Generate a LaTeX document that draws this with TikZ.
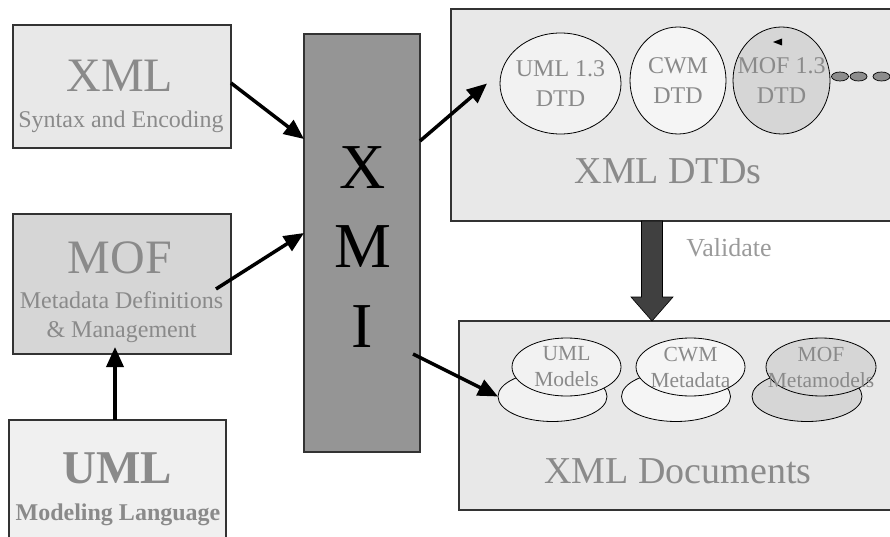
\documentclass[tikz,border=0pt]{standalone}
\usepackage{fontspec}
\setmainfont{Liberation Serif}
\usetikzlibrary{arrows.meta,shapes.geometric,calc}

\definecolor{boxlight}{HTML}{E8E8E8}
\definecolor{mofgray}{HTML}{D6D6D6}
\definecolor{umllight}{HTML}{F0F0F0}
\definecolor{xmigray}{HTML}{959595}
\definecolor{ellA}{HTML}{F2F2F2}
\definecolor{ellB}{HTML}{F5F5F5}
\definecolor{ellC}{HTML}{D6D6D6}
\definecolor{txtgray}{HTML}{8A8A8A}
\definecolor{lightgray}{HTML}{9A9A9A}
\definecolor{dotgray}{HTML}{8C8C8C}
\definecolor{bigarrow}{HTML}{404040}
\definecolor{edge}{HTML}{333333}

\begin{document}
\begin{tikzpicture}[x=1pt,y=-1pt,
  box/.style={draw=edge, line width=1.1pt, inner sep=0pt, outer sep=0pt, anchor=north west},
  ell/.style={ellipse, draw=black, line width=0.8pt, inner sep=0pt, outer sep=0pt},
  dot/.style={ellipse, draw=black, line width=0.7pt, fill=dotgray, inner sep=0pt,
              minimum width=17pt, minimum height=9pt},
  txt/.style={anchor=base, inner sep=0pt, text=txtgray},
  title/.style={txt, font=\fontsize{48}{48}\selectfont},
  sub/.style={txt, font=\fontsize{24}{24}\selectfont},
  letter/.style={anchor=base, inner sep=0pt, text=black, font=\fontsize{64}{64}\selectfont},
  dtdlbl/.style={align=center, inner sep=0pt, text=txtgray, font=\fontsize{24}{30}\selectfont},
  doclbl/.style={align=center, inner sep=0pt, text=txtgray, font=\fontsize{21.5}{26}\selectfont},
  arr/.style={line width=3.5pt, draw=black, -{Triangle[length=20pt,width=17pt]}},
  bigarr/.style={fill=bigarrow, draw=black, line width=0.6pt}
]
\useasboundingbox (0,0) rectangle (890,537);
\clip (0,0) rectangle (890,537);

% left column and the XMI block
\node[box, fill=boxlight, minimum width=218pt, minimum height=123pt] (xml) at (13,25) {};
\node[box, fill=mofgray, minimum width=218pt, minimum height=140pt] (mof) at (13,214) {};
\node[box, fill=umllight, minimum width=217pt, minimum height=140pt] (uml) at (9,420) {};
\node[box, fill=xmigray, minimum width=116pt, minimum height=418pt] (xmi) at (304,34) {};

% right column
\node[box, fill=boxlight, minimum width=460pt, minimum height=212pt] (dtd) at (451,9) {};
\node[box, fill=boxlight, minimum width=460pt, minimum height=189pt] (docs) at (459,321) {};

% DTD ellipses
\node[ell, fill=ellA, minimum width=121pt, minimum height=101pt,
      label={[dtdlbl]center:{UML 1.3\\DTD}}] (dUml) at (560.5,83.5) {};
\node[ell, fill=ellB, minimum width=96pt, minimum height=107pt,
      label={[dtdlbl]center:{CWM\\DTD}}] (dCwm) at (678,80.5) {};
\node[ell, fill=ellC, minimum width=97pt, minimum height=107pt,
      label={[dtdlbl]center:{MOF 1.3\\DTD}}] (dMof) at (781.5,80.5) {};
\node[dot] (dot1) at (840,76.5) {};
\node[dot] (dot2) at (858.5,76.5) {};
\node[dot] (dot3) at (881.5,76.5) {};
\fill[black] (773,42) -- (782,38.5) -- (782,45.5) -- cycle;

% document ellipses (stacked pairs)
\node[ell, fill=ellA, minimum width=109pt, minimum height=50pt] (bUml) at (552.5,396.5) {};
\node[ell, fill=ellA, minimum width=109pt, minimum height=58pt,
      label={[doclbl]center:{UML\\Models}}] (tUml) at (566.5,367) {};
\node[ell, fill=ellB, minimum width=109pt, minimum height=50pt] (bCwm) at (676,396.5) {};
\node[ell, fill=ellB, minimum width=109pt, minimum height=58pt,
      label={[doclbl]center:{CWM\\Metadata}}] (tCwm) at (690.5,367) {};
\node[ell, fill=ellC, minimum width=110pt, minimum height=50pt] (bMof) at (807,396.5) {};
\node[ell, fill=ellC, minimum width=110pt, minimum height=58pt,
      label={[doclbl]center:{MOF\\Metamodels}}] (tMof) at (821,367) {};

% connectors
\draw[arr] ([yshift=3.5pt]xml.east) -- ([yshift=104pt]xmi.west);
\draw[arr] ([xshift=-15pt,yshift=-5pt]mof.east) -- ([yshift=10pt]xmi.west);
\draw[arr] ([xshift=-2.5pt]uml.north) -- ([xshift=-7pt,yshift=7pt]mof.south);
\draw[arr] ([yshift=102pt]xmi.east) -- ([xshift=-13pt]dUml.west);
\draw[arr] ([xshift=-7pt,yshift=-111pt]xmi.east) -- (bUml.west);

% validation arrow between the two right boxes
\coordinate (vtop) at (652,221);
\coordinate (vtip) at (652,321);
\filldraw[bigarr] ($(vtop)+(-10.5,0)$) -- ($(vtop)+(-10.5,76)$) -- ($(vtop)+(-21,76)$)
  -- (vtip) -- ($(vtop)+(21,76)$) -- ($(vtop)+(10.5,76)$) -- ($(vtop)+(10.5,0)$) -- cycle;
\node[anchor=base, inner sep=0pt, text=lightgray, font=\fontsize{26}{26}\selectfont]
  (validate) at (729,256) {Validate};

% texts
\node[title] (xmlT) at (120,92) {XML};
\node[sub] (xmlS) at (121,128) {Syntax and Encoding};
\node[title] (mofT) at (120,273) {MOF};
\node[sub] (mofS1) at (121.5,308) {Metadata Definitions};
\node[sub] (mofS2) at (121.5,337) {\& Management};
\node[title, font=\fontsize{47}{47}\selectfont\bfseries] (umlT) at (117.5,483) {UML};
\node[sub, font=\fontsize{24}{24}\selectfont\bfseries] (umlS) at (118,520) {Modeling Language};

\node[letter] (xL) at (362.5,189) {X};
\node[letter] (mL) at (362.5,267) {M};
\node[letter] (iL) at (362.5,347) {I};

\node[txt, font=\fontsize{38}{38}\selectfont] (dtdT) at (668,184) {XML DTDs};
\node[txt, font=\fontsize{38}{38}\selectfont] (docsT) at (678,483) {XML Documents};
\end{tikzpicture}
\end{document}
